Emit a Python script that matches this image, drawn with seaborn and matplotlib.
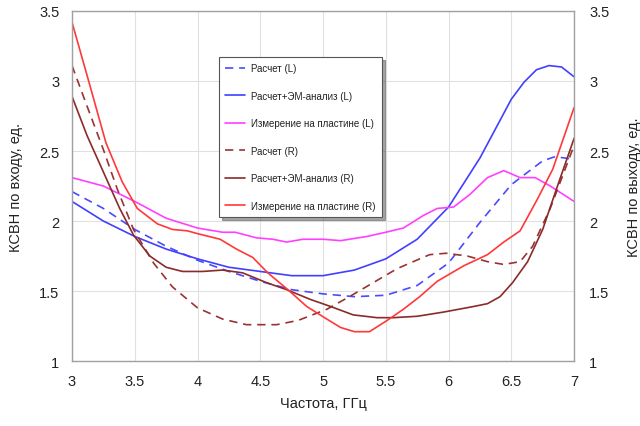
import numpy as np
import pandas as pd
import matplotlib
matplotlib.use("Agg")
import matplotlib.pyplot as plt
import seaborn as sns

# ---- data ----
f_calc_L = [3.0, 3.25, 3.5, 3.75, 4.0, 4.25, 4.5, 4.75, 5.0, 5.25, 5.5, 5.75, 6.0, 6.25, 6.5, 6.75, 6.85, 7.0]
v_calc_L = [2.21, 2.09, 1.94, 1.82, 1.72, 1.64, 1.57, 1.51, 1.48, 1.46, 1.47, 1.54, 1.70, 1.99, 2.26, 2.43, 2.46, 2.44]

f_em_L = [3.0, 3.25, 3.5, 3.75, 4.0, 4.25, 4.5, 4.75, 5.0, 5.25, 5.5, 5.75, 6.0, 6.25, 6.5, 6.6, 6.7, 6.8, 6.9, 7.0]
v_em_L = [2.14, 2.00, 1.89, 1.80, 1.73, 1.67, 1.64, 1.61, 1.61, 1.65, 1.73, 1.87, 2.10, 2.45, 2.87, 2.99, 3.08, 3.11, 3.10, 3.03]

f_meas_L = [3.0, 3.25, 3.5, 3.75, 4.0, 4.2, 4.3, 4.47, 4.6, 4.71, 4.84, 5.0, 5.14, 5.35, 5.5, 5.64, 5.8, 5.91,
            6.04, 6.17, 6.31, 6.44, 6.57, 6.69, 6.81, 7.0]
v_meas_L = [2.31, 2.25, 2.14, 2.02, 1.95, 1.92, 1.92, 1.88, 1.87, 1.85, 1.87, 1.87, 1.86, 1.89, 1.92, 1.95, 2.04, 2.09,
            2.10, 2.19, 2.31, 2.36, 2.31, 2.31, 2.25, 2.14]

f_calc_R = [3.0, 3.12, 3.25, 3.36, 3.49, 3.65, 3.8, 4.0, 4.2, 4.39, 4.55, 4.63, 4.8, 5.03, 5.21, 5.4, 5.59, 5.77,
            5.85, 5.98, 6.15, 6.31, 6.44, 6.57, 6.67, 6.81, 7.0]
v_calc_R = [3.11, 2.82, 2.51, 2.23, 1.94, 1.70, 1.53, 1.38, 1.30, 1.26, 1.26, 1.26, 1.29, 1.37, 1.46, 1.56, 1.66, 1.73,
            1.76, 1.77, 1.75, 1.71, 1.69, 1.71, 1.82, 2.09, 2.54]

f_em_R = [3.0, 3.12, 3.25, 3.38, 3.49, 3.62, 3.75, 3.88, 4.04, 4.2, 4.36, 4.55, 4.71, 4.9, 5.06, 5.24, 5.43, 5.56,
          5.75, 5.96, 6.2, 6.31, 6.41, 6.51, 6.63, 6.75, 6.86, 7.0]
v_em_R = [2.89, 2.61, 2.35, 2.09, 1.90, 1.75, 1.67, 1.64, 1.64, 1.65, 1.63, 1.56, 1.51, 1.44, 1.39, 1.33, 1.31, 1.31,
          1.32, 1.35, 1.39, 1.41, 1.46, 1.56, 1.71, 1.94, 2.23, 2.59]

f_meas_R = [3.0, 3.12, 3.27, 3.4, 3.52, 3.68, 3.8, 3.92, 4.0, 4.18, 4.31, 4.44, 4.56, 4.72, 4.87, 5.03, 5.14, 5.25,
            5.37, 5.51, 5.64, 5.77, 5.91, 6.12, 6.31, 6.44, 6.57, 6.71, 6.83, 7.0]
v_meas_R = [3.42, 3.04, 2.56, 2.28, 2.09, 1.98, 1.94, 1.93, 1.91, 1.87, 1.80, 1.74, 1.63, 1.51, 1.39, 1.30, 1.24, 1.21,
            1.21, 1.29, 1.37, 1.46, 1.57, 1.68, 1.76, 1.85, 1.93, 2.16, 2.37, 2.81]

labels = ["Расчет (L)", "Расчет+ЭМ-анализ (L)", "Измерение на пластине (L)",
          "Расчет (R)", "Расчет+ЭМ-анализ (R)", "Измерение на пластине (R)"]
x_ticks = [3, 3.5, 4, 4.5, 5, 5.5, 6, 6.5, 7]
y_ticks = [1, 1.5, 2, 2.5, 3, 3.5]

series = [(f_calc_L, v_calc_L), (f_em_L, v_em_L), (f_meas_L, v_meas_L),
          (f_calc_R, v_calc_R), (f_em_R, v_em_R), (f_meas_R, v_meas_R)]
colors = ["#4a4aff", "#4040ff", "#ff40ff", "#993333", "#8b2a2a", "#ff3838"]
dashed = [True, False, False, True, False, False]

sns.set_theme(style="white")
plt.rcParams["font.family"] = ["Liberation Sans", "DejaVu Sans"]

fig = plt.figure(figsize=(6.4, 4.27), dpi=100)
ax = fig.add_axes([0.1125, 0.152, 0.7845, 0.820])

for (fx, vy), lab, c, d in zip(series, labels, colors, dashed):
    df = pd.DataFrame({"f": fx, "v": vy})
    sns.lineplot(data=df, x="f", y="v", ax=ax, color=c, linewidth=1.2, label=lab,
                 linestyle="--" if d else "-")
for line, d in zip(ax.get_lines(), dashed):
    if d:
        line.set_dashes((5, 3.5))

ax.set_xlim(3, 7)
ax.set_ylim(1, 3.5)
ax.set_xticks(x_ticks)
ax.set_xticklabels([f"{t:g}" for t in x_ticks])
ax.set_yticks(y_ticks)
ax.set_yticklabels([f"{t:g}" for t in y_ticks])
ax.grid(True, color="#e0e0e0", linewidth=0.8)
for s in ax.spines.values():
    s.set_color("#a0a0a0")
    s.set_linewidth(1.0)
ax.tick_params(axis="both", length=0, labelsize=10.5, colors="#222222", pad=9)
ax.set_xlabel("Частота, ГГц", fontsize=10.5, color="#222222", labelpad=6)
ax.set_ylabel("КСВН по входу, ед.", fontsize=10.5, color="#222222", labelpad=12)

ax2 = ax.twinx()
ax2.set_ylim(1, 3.5)
ax2.set_yticks(y_ticks)
ax2.set_yticklabels([f"{t:g}" for t in y_ticks])
ax2.tick_params(axis="y", length=0, labelsize=10.5, colors="#222222", pad=11)
ax2.set_ylabel("КСВН по выходу, ед.", fontsize=10.5, color="#222222")
ax2.yaxis.set_label_coords(1.106, 0.5)
ax2.grid(False)
for s in ax2.spines.values():
    s.set_visible(False)

leg = ax.legend(loc="upper left", bbox_to_anchor=(0.2928, 0.8686), fontsize=7.0,
                frameon=True, shadow=True, fancybox=False, labelspacing=1.8,
                handlelength=2.0, handletextpad=0.65, borderpad=0.65, borderaxespad=0)
leg.get_frame().set_edgecolor("#555555")
leg.get_frame().set_linewidth(0.8)
for t in leg.get_texts():
    t.set_color("#222222")

fig.savefig("out.png", dpi=100)
